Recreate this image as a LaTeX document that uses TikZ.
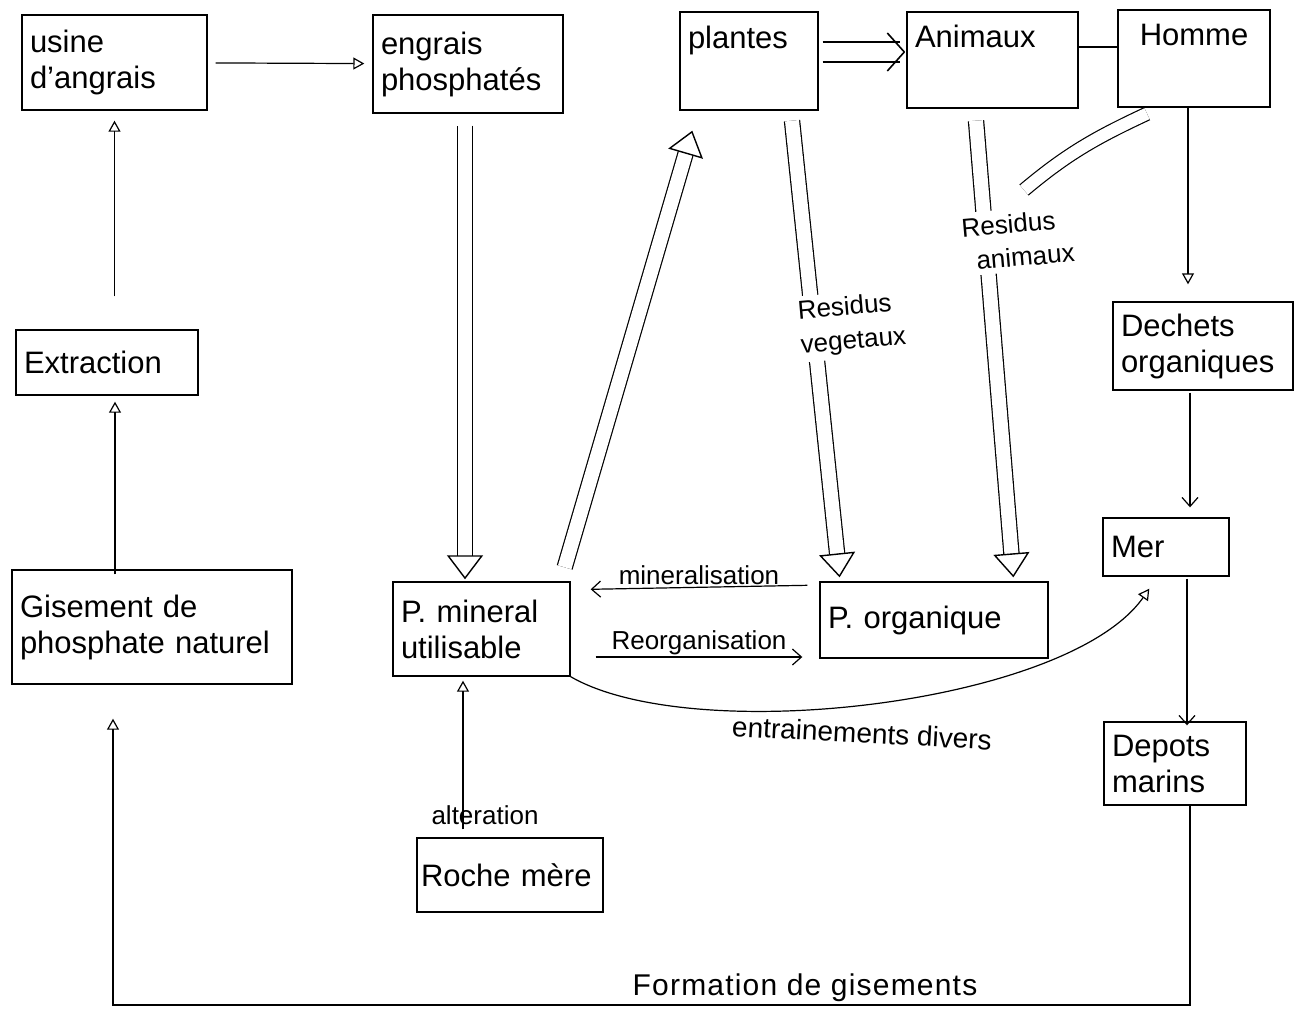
\documentclass[tikz,border=0pt]{standalone}
\usepackage{fontspec}
\setmainfont{Liberation Sans}
\usetikzlibrary{arrows.meta}
\begin{document}
\begin{tikzpicture}[x=1pt,y=-1pt,
  box/.style={draw, line width=1.4pt, align=left, inner sep=8pt, font=\fontsize{31}{36}\selectfont, anchor=center},
  lbl/.style={font=\fontsize{26}{30}\selectfont, inner sep=2pt},
  conn/.style={line width=1.2pt},
  opentip/.style={conn, -{Triangle[open,length=11pt,width=12pt,line width=1.2pt]}},
  barbtip/.style={conn, -{Straight Barb[length=9pt,width=16pt,line width=1.2pt]}},
  flow/.style={line width=1.2pt, double, double distance=14pt},
  bigtip/.style={flow, -{Triangle[open,length=24pt,width=36pt,line width=1.4pt]}},
]
\useasboundingbox[fill=white] (0,0) rectangle (1309,1020);

% boxes
\node[box, text width=169pt, minimum height=95pt] (usine) at (114.5,62.5) {usine\\d'angrais};
\node[box, text width=174pt, minimum height=98pt] (engrais) at (468,64) {engrais\\phosphatés};
\node[box, text width=122pt, minimum height=98pt] (plantes) at (749,61) {plantes\\\strut};
\node[box, text width=155pt, minimum height=96pt] (animaux) at (992.5,60) {Animaux\\\strut};
\node[box, align=center, text width=136pt, minimum height=97pt] (homme) at (1194,58.5) {Homme\\\strut};
\node[box, text width=166pt, minimum height=65pt] (extraction) at (107,362.5) {Extraction};
\node[box, text width=264pt, minimum height=114pt] (gisement) at (152,627) {Gisement de\\phosphate naturel};
\node[box, text width=161pt, minimum height=94pt] (pmin) at (481.5,629) {P. mineral\\utilisable};
\node[box, text width=212pt, minimum height=76pt] (porg) at (934,620) {P. organique};
\node[box, inner xsep=4pt, text width=178pt, minimum height=74pt] (rocha) at (510,875) {Roche~mère};
\node[box, text width=164pt, minimum height=88pt] (dechets) at (1203,346) {Dechets\\organiques};
\node[box, text width=110pt, minimum height=58pt] (mer) at (1166,547) {Mer};
\node[box, text width=126pt, minimum height=83pt] (depots) at (1175,763.5) {Depots\\marins};

% helper coordinates
\coordinate (x113) at (113,0);
\coordinate (x115) at (115,0);
\coordinate (x463) at (463,0);
\coordinate (x465) at (465,0);
\coordinate (x1187) at (1187,0);
\coordinate (x1188) at (1188,0);
\coordinate (x1190) at (1190,0);
\coordinate (fb) at (0,1005);
\coordinate (hr) at (1024,190);

% left column
\draw[opentip, shorten <=8pt, shorten >=8pt] (usine) -- (engrais);
\draw[opentip, shorten <=33pt, shorten >=10pt] (usine.south |- extraction.north) -- (usine.south);
\draw[opentip, shorten <=-5pt, shorten >=6pt] (gisement.north -| x115) -- (extraction.south -| x115);

% double flows
\draw[bigtip, shorten <=12pt, shorten >=2pt] (engrais.south -| x465) -- (pmin.north -| x465);
\draw[bigtip] ([xshift=-6pt,yshift=14pt]pmin.north east) -- ([xshift=13pt,yshift=-20pt]plantes.south west);
% plantes => Animaux (two lines and a chevron)
\draw[conn] ([xshift=4pt,yshift=19pt]plantes.east) -- ([xshift=-6pt,yshift=18pt]animaux.west);
\draw[conn] ([xshift=4pt,yshift=-1pt]plantes.east) -- ([xshift=-6pt,yshift=-2pt]animaux.west);
\draw[line width=1.6pt, line join=round] ([xshift=-19pt,yshift=27pt]animaux.west) -- ([xshift=-2pt,yshift=8pt]animaux.west) -- ([xshift=-19pt,yshift=-11pt]animaux.west);
\draw[conn] ([yshift=13pt]animaux.east) -- ([yshift=11.5pt]homme.west);
\draw[bigtip, shorten >=4pt] ([xshift=43pt,yshift=-10pt]plantes.south) -- ([xshift=-94pt]porg.north);
\draw[bigtip, shorten >=4pt] ([xshift=-16.5pt,yshift=-12pt]animaux.south) -- ([xshift=-35pt]porg.north east);
\draw[flow, double distance=12pt] ([xshift=-47pt,yshift=-6pt]homme.south) to[out=205,in=40] (hr);

\node[lbl, font=\fontsize{26}{34}\selectfont, fill=white, align=left, rotate=5, inner sep=4pt] (resveg) at (852,325) {Residus\\vegetaux};
\node[lbl, font=\fontsize{26}{34}\selectfont, fill=white, align=left, rotate=5, inner sep=5pt] (resani) at (1018,240) {Residus\\\hspace*{12pt}animaux};

% right column
\draw[opentip, shorten >=17pt] (homme.south -| x1188) -- (dechets.north -| x1188);
\draw[barbtip, shorten <=2pt, shorten >=10pt] (dechets.south -| x1190) -- (mer.north -| x1190);
\draw[barbtip, shorten <=2pt, shorten >=-4pt] (mer.south -| x1187) -- (depots.north -| x1187);

% P exchanges
\draw[barbtip] ([xshift=-12pt,yshift=-4pt]porg.north west) -- ([xshift=20pt,yshift=-8pt]pmin.north east)
  node[midway, above, lbl] (minlbl) {mineralisation};
\draw[barbtip] ([xshift=25pt,yshift=-28pt]pmin.east) -- ([xshift=-17pt,yshift=-37pt]porg.west)
  node[midway, above, lbl] (reolbl) {Reorganisation};
\draw[opentip] (pmin.south east) to[out=-30,in=235,looseness=0.62] ([xshift=47pt,yshift=-12pt]mer.south west);
\node[lbl, font=\fontsize{28}{32}\selectfont, rotate=-3] (entlbl) at (862,733) {entrainements divers};

% alteration
\draw[opentip, shorten <=8pt, shorten >=4pt] (x463 |- rocha.north) -- (x463 |- pmin.south);
\node[lbl] (altlbl) at (485,815) {alteration};

% formation de gisements
\draw[opentip, shorten >=34pt] (depots.south -| x1190) |- (x113 |- fb) -- (x113 |- gisement.south);
\node[lbl, font=\fontsize{30}{34}\selectfont\addfontfeature{LetterSpace=4}] (formlbl) at (805,988) {Formation de gisements};
\end{tikzpicture}
\end{document}
